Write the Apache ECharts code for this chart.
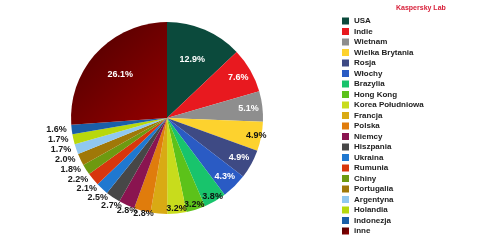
<!DOCTYPE html>
<html>
<head>
<meta charset="utf-8">
<script src="https://cdn.jsdelivr.net/npm/echarts@6/dist/echarts.min.js"></script>
<style>html,body{margin:0;padding:0;background:#fff;}#c{width:490px;height:246px;}</style>
</head>
<body>
<div id="c"></div>
<script>
const categories = ['USA','Indie','Wietnam','Wielka Brytania','Rosja','Włochy','Brazylia','Hong Kong','Korea Południowa','Francja','Polska','Niemcy','Hiszpania','Ukraina','Rumunia','Chiny','Portugalia','Argentyna','Holandia','Indonezja','inne'];
const values = [12.9,7.6,5.1,4.9,4.9,4.3,3.8,3.2,3.2,2.8,2.8,2.7,2.5,2.1,2.2,1.8,2.0,1.7,1.7,1.6,26.1];
const colors = ['#0b4a3c','#e8191f','#8e8e8e','#fdd22e','#3e4a84','#2a5bc4','#18c46c','#5cc21a','#c8dc1c','#d9aa14','#e07c0c','#8a1450','#474747','#1f78d0','#d8360c','#6e9a10','#a07808','#90c8f0','#b8d80c','#1a5fa8','#700000'];
const labelColors = ['#fff','#fff','#fff','#111','#fff','#fff','#111','#111','#111','#1a1a1a','#1a1a1a','#1a1a1a','#1a1a1a','#1a1a1a','#1a1a1a','#1a1a1a','#1a1a1a','#1a1a1a','#1a1a1a','#1a1a1a','#fff'];
const ringDeep = [0, 20];
const ringMid = [1, 2, 4, 5];
const ringEdge = [3, 6, 7, 8];

const chart = echarts.init(document.getElementById('c'));
const mainData = categories.map((n,i)=>({name:n,value:values[i],itemStyle:{color: i===20 ? {type:'linear',x:0,y:0,x2:1,y2:1,colorStops:[{offset:0,color:'#4a0000'},{offset:1,color:'#960000'}]} : colors[i]}}));
const allInside = ringDeep.concat(ringMid, ringEdge);
function labelSeries(r0, idx, withOutside){
  return {type:'pie',center:[167,118],radius:[r0,96],startAngle:90,clockwise:true,silent:true,avoidLabelOverlap:false,
    itemStyle:{color:'rgba(0,0,0,0)'},
    label:{show:true,formatter:p=>p.value.toFixed(1)+'%',fontSize:9,fontWeight:'bold',fontFamily:'Liberation Sans'},
    labelLine:{show:false,length:0,length2:0},
    labelLayout:{hideOverlap:false},
    data:categories.map((n,i)=>{
      const ins = idx.includes(i);
      const out = withOutside && !allInside.includes(i);
      return {name:n,value:values[i],label:{show: ins||out, position: ins?'inside':'outside', color: labelColors[i]}};
    })};
}
chart.setOption({
  animation:false,
  title:{text:'Kaspersky Lab',left:391,top:0,textStyle:{color:'#d8203a',fontSize:7,fontWeight:'bold',fontFamily:'Liberation Sans'}},
  legend:{orient:'vertical',left:337,top:12,itemWidth:7,itemHeight:7,itemGap:2.5,icon:'rect',data:categories,
    textStyle:{fontSize:8,lineHeight:8,fontWeight:'bold',color:'#222',fontFamily:'Liberation Sans'},selectedMode:false},
  series:[
    {type:'pie',center:[167,118],radius:[0,96],startAngle:90,clockwise:true,label:{show:false},labelLine:{show:false},
     silent:true,data:mainData},
    labelSeries(26, ringDeep, true),
    labelSeries(62, ringMid, false),
    labelSeries(80, ringEdge, false)
  ]
});
</script>
</body>
</html>
